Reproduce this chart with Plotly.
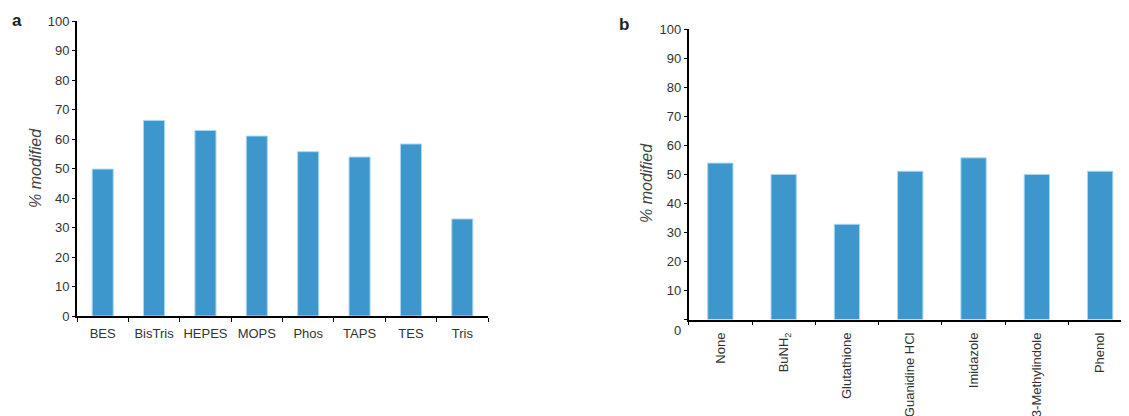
import plotly.graph_objects as go

W, H = 1129, 416
OFF = 8  # page body margin

buffers = ["BES", "BisTris", "HEPES", "MOPS", "Phos", "TAPS", "TES", "Tris"]
buffer_vals = [49.8, 66.3, 62.9, 61.0, 55.7, 53.9, 58.3, 32.9]

additives = ["None", "BuNH<sub>2</sub>", "Glutathione", "Guanidine HCl", "Imidazole",
             "3-Methylindole", "Phenol"]
additive_vals = [53.9, 50.0, 32.8, 51.1, 55.7, 50.0, 51.1]

yticks = [0, 10, 20, 30, 40, 50, 60, 70, 80, 90, 100]
yticks_b_text = [""] + [str(v) for v in yticks[1:]]

bar_color = "#3d97cc"
edge_color = "#a9d8f2"
tick_font = dict(family="Liberation Sans, Arial, sans-serif", size=13, color="#333333")

def px_x(p):
    return (p - OFF) / W

def px_y(p):
    return 1 - (p - OFF) / H

fig = go.Figure()
fig.add_trace(go.Bar(x=buffers, y=buffer_vals, xaxis="x", yaxis="y",
                     marker=dict(color=bar_color, line=dict(color=edge_color, width=1)),
                     width=0.41, showlegend=False))
fig.add_trace(go.Bar(x=additives, y=additive_vals, xaxis="x2", yaxis="y2",
                     marker=dict(color=bar_color, line=dict(color=edge_color, width=1)),
                     width=0.4, showlegend=False))

axis_common = dict(showgrid=False, zeroline=False, showline=True, linecolor="black",
                   linewidth=1.8, ticks="outside", tickcolor="black", tickwidth=1.3,
                   tickfont=tick_font, automargin=False)

b_left = 688.7
b_right = 1131.8

fig.update_layout(
    template="none",
    width=W, height=H,
    margin=dict(l=0, r=0, t=0, b=0),
    paper_bgcolor="white", plot_bgcolor="white",
    bargap=0.6,
    xaxis=dict(domain=[px_x(77), px_x(488)], anchor="y", range=[-0.5, 7.5],
               tickson="boundaries", ticklen=4, tickangle=0, ticklabelstandoff=4,
               **axis_common),
    yaxis=dict(domain=[px_y(316), px_y(21)], anchor="x", range=[0, 100],
               tickvals=yticks, ticklen=3, **axis_common),
    xaxis2=dict(domain=[px_x(b_left), px_x(b_right)], anchor="y2", range=[-0.5, 6.5],
                tickson="boundaries", ticklen=4, tickangle=-90, ticklabelstandoff=6,
                **axis_common),
    yaxis2=dict(domain=[px_y(319.5), px_y(29.3)], anchor="x2", range=[0, 100],
                tickvals=yticks, ticktext=yticks_b_text, ticklen=3, **axis_common),
)

title_font = dict(family="Liberation Sans, Arial, sans-serif", size=16, color="#444444")
fig.add_annotation(x=px_x(35), y=px_y(168), xref="paper", yref="paper",
                   text="<i>% modified</i>", textangle=-90, showarrow=False,
                   font=title_font, xanchor="center", yanchor="middle")
fig.add_annotation(x=px_x(647), y=px_y(183), xref="paper", yref="paper",
                   text="<i>% modified</i>", textangle=-90, showarrow=False,
                   font=title_font, xanchor="center", yanchor="middle")
fig.add_annotation(x=px_x(683), y=px_y(330), xref="paper", yref="paper",
                   text="0", showarrow=False, font=tick_font,
                   xanchor="right", yanchor="middle")

letter_font = dict(family="Liberation Sans, Arial, sans-serif", size=17, color="#222222")
fig.add_annotation(x=px_x(17), y=px_y(20), xref="paper", yref="paper",
                   text="<b>a</b>", showarrow=False, font=letter_font,
                   xanchor="center", yanchor="middle")
fig.add_annotation(x=px_x(624), y=px_y(25), xref="paper", yref="paper",
                   text="<b>b</b>", showarrow=False, font=letter_font,
                   xanchor="center", yanchor="middle")

fig.write_html("out.html")
